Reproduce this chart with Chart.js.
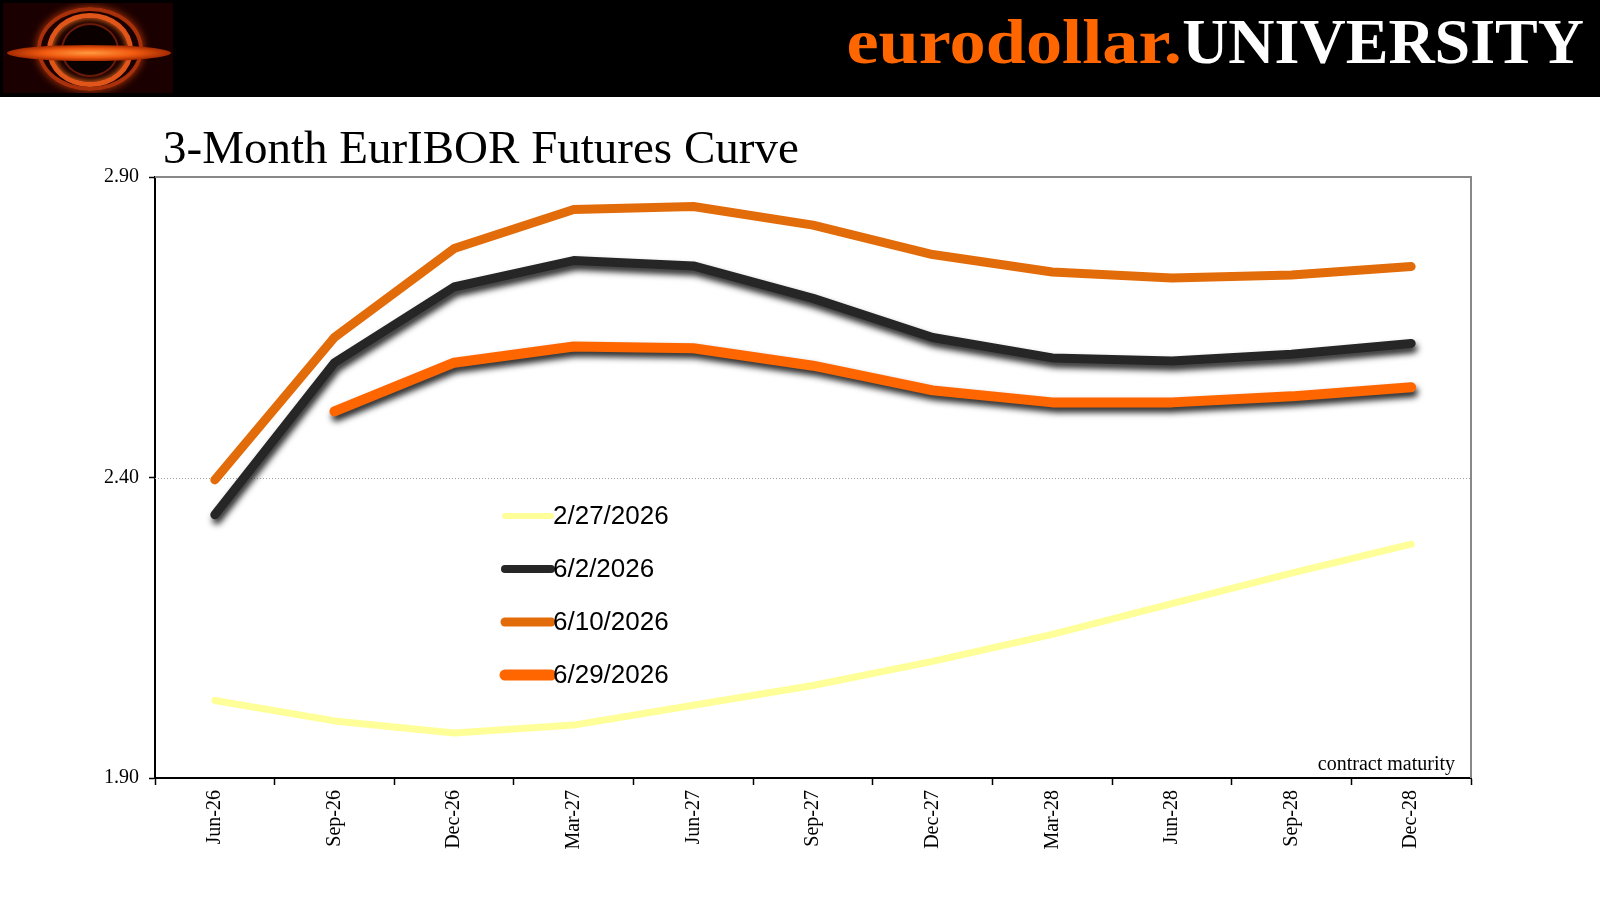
<!DOCTYPE html>
<html>
<head>
<meta charset="utf-8">
<script src="https://cdn.jsdelivr.net/npm/chart.js@4.4.1/dist/chart.umd.min.js"></script>
<style>
    html, body { margin: 0; padding: 0; background: #fff; }
    body { width: 1600px; height: 900px; position: relative; overflow: hidden; }
    #chartBox { position: absolute; left: 0; top: 0; width: 1600px; height: 900px; }
    .header { position: absolute; left: 0; top: 0; width: 1600px; height: 97px; background: #000; }
    .logo { position: absolute; left: 3px; top: 3px; width: 170px; height: 90px; background: #1a0000; overflow: hidden; }
    .logo .ring { position: absolute; border-radius: 50%; box-sizing: border-box; }
    .brand { position: absolute; right: 16px; top: 10px; font-family: "Liberation Serif", serif; font-weight: bold; font-size: 64px; line-height: 64px; white-space: nowrap; }
    .brand .euro { color: #ff6600; display: inline-block; transform: scaleX(1.13); transform-origin: right center; }
    .brand .uni { color: #fff; }
    .title { position: absolute; left: 163px; top: 124px; font-family: "Liberation Serif", serif; font-size: 47px; line-height: 47px; color: #000; white-space: nowrap; }
    .note { position: absolute; right: 145px; top: 753px; font-family: "Liberation Serif", serif; font-size: 20px; line-height: 20px; color: #000; }
</style>
</head>
<body>
<div id="chartBox"><canvas id="curveChart"></canvas></div>

<div class="header">
    <div class="logo">
        <div class="ring" style="left:34px; top:4px; width:106px; height:84px; border:4px solid #a8300a; box-shadow:0 0 8px #c03a08;"></div>
        <div class="ring" style="left:44px; top:10px; width:86px; height:74px; border:5px solid #e0561a; box-shadow:inset 0 0 6px #ff7a20;"></div>
        <div class="ring" style="left:58px; top:20px; width:58px; height:54px; border:2px solid #6a1a08; background:#0a0000;"></div>
        <div class="ring" style="left:4px; top:42px; width:164px; height:16px; background:radial-gradient(ellipse at center, #ff9a40 0%, #f05a10 40%, #a02800 72%, rgba(40,0,0,0) 100%);"></div>
    </div>
    <div class="brand"><span class="euro">eurodollar.</span><span class="uni">UNIVERSITY</span></div>
</div>
<div class="title">3-Month EurIBOR Futures Curve</div>
<div class="note">contract maturity</div>

<script>
// contract maturities
const maturities = ['Jun-26', 'Sep-26', 'Dec-26', 'Mar-27', 'Jun-27', 'Sep-27',
    'Dec-27', 'Mar-28', 'Jun-28', 'Sep-28', 'Dec-28'];

// implied rates per curve date
const curveFeb27 = [2.029, 1.995, 1.975, 1.988, 2.021, 2.054, 2.094, 2.139, 2.190, 2.241, 2.289];
const curveJun2 = [2.338, 2.591, 2.717, 2.761, 2.752, 2.698, 2.633, 2.599, 2.594, 2.605, 2.623];
const curveJun10 = [2.396, 2.633, 2.781, 2.846, 2.851, 2.820, 2.771, 2.742, 2.732, 2.737, 2.751];
const curveJun29 = [null, 2.510, 2.591, 2.618, 2.615, 2.586, 2.545, 2.525, 2.525, 2.535, 2.550];

const yTicks = [1.90, 2.40, 2.90];
const midLine = 2.40;

const serif = 'Liberation Serif';

// drop shadow under the black and 6/29 lines
const shadowPlugin = {
    id: 'lineShadow',
    beforeDatasetDraw(chart, args) {
        const ds = chart.data.datasets[args.index];
        if (!ds.shadow) return;
        const ctx = chart.ctx;
        ctx.save();
        ctx.shadowColor = 'rgba(0, 0, 0, 0.85)';
        ctx.shadowBlur = 6;
        ctx.shadowOffsetX = 2;
        ctx.shadowOffsetY = 5;
    },
    afterDatasetDraw(chart, args) {
        const ds = chart.data.datasets[args.index];
        if (!ds.shadow) return;
        chart.ctx.restore();
    }
};

// grey frame on top and right, dotted line at 2.40
const framePlugin = {
    id: 'plotFrame',
    beforeDatasetsDraw(chart) {
        const { ctx, chartArea: a } = chart;
        const yMid = Math.round(chart.scales.y.getPixelForValue(midLine)) + 0.5;
        ctx.save();
        ctx.strokeStyle = '#a0a0a0';
        ctx.lineWidth = 1;
        ctx.setLineDash([1, 2]);
        ctx.beginPath();
        ctx.moveTo(a.left, yMid);
        ctx.lineTo(a.right, yMid);
        ctx.stroke();
        ctx.setLineDash([]);
        ctx.strokeStyle = '#888888';
        ctx.lineWidth = 2;
        ctx.beginPath();
        ctx.moveTo(a.left, a.top);
        ctx.lineTo(a.right, a.top);
        ctx.lineTo(a.right, a.bottom);
        ctx.stroke();
        ctx.restore();
    }
};

// legend sitting inside the plot
const insideLegend = {
    id: 'insideLegend',
    afterDraw(chart) {
        const ctx = chart.ctx;
        const x0 = 505, x1 = 551, top = 516, gap = 53;
        ctx.save();
        chart.data.datasets.forEach((ds, i) => {
            const y = top + i * gap;
            ctx.strokeStyle = ds.borderColor;
            ctx.lineWidth = ds.legendWidth;
            ctx.lineCap = 'round';
            ctx.beginPath();
            ctx.moveTo(x0, y);
            ctx.lineTo(x1, y);
            ctx.stroke();
            ctx.fillStyle = '#000';
            ctx.font = '26px "Liberation Sans"';
            ctx.textBaseline = 'middle';
            ctx.textAlign = 'left';
            ctx.fillText(ds.label, x1 + 2, y + 1);
        });
        ctx.restore();
    }
};

function makeSet(label, data, color, width, legendWidth, shadow) {
    return {
        label: label,
        data: data,
        borderColor: color,
        backgroundColor: color,
        borderWidth: width,
        legendWidth: legendWidth,
        shadow: shadow,
        borderCapStyle: 'round',
        borderJoinStyle: 'round',
        pointRadius: 0,
        pointHoverRadius: 0,
        tension: 0,
        fill: false,
        spanGaps: false
    };
}

function initChart() {
    const ctx = document.getElementById('curveChart').getContext('2d');

    new Chart(ctx, {
        type: 'line',
        data: {
            labels: maturities,
            datasets: [
                makeSet('2/27/2026', curveFeb27, '#ffff99', 7, 6, false),
                makeSet('6/2/2026', curveJun2, '#262626', 9, 8, true),
                makeSet('6/10/2026', curveJun10, '#e36c0a', 9, 9, false),
                makeSet('6/29/2026', curveJun29, '#ff6600', 10, 11, true)
            ]
        },
        plugins: [shadowPlugin, framePlugin, insideLegend],
        options: {
            responsive: true,
            maintainAspectRatio: false,
            animation: false,
            devicePixelRatio: 1,
            layout: {
                padding: { left: 85, right: 129, top: 177, bottom: 42 }
            },
            scales: {
                x: {
                    offset: true,
                    afterFit: (scale) => { scale.height = 80; },
                    border: { color: '#000', width: 2 },
                    grid: {
                        offset: true,
                        drawOnChartArea: false,
                        tickColor: '#000',
                        tickLength: 7,
                        tickWidth: 1.5
                    },
                    ticks: {
                        color: '#000',
                        font: { family: serif, size: 20 },
                        minRotation: 90,
                        maxRotation: 90,
                        padding: 5,
                        autoSkip: false
                    }
                },
                y: {
                    min: 1.9,
                    max: 2.9,
                    afterFit: (scale) => { scale.width = 70; },
                    afterBuildTicks: (scale) => {
                        scale.ticks = yTicks.map(v => ({ value: v }));
                    },
                    border: { color: '#000', width: 2 },
                    grid: {
                        color: 'rgba(0,0,0,0)',
                        drawOnChartArea: false,
                        tickColor: '#000',
                        tickLength: 6,
                        tickWidth: 1.5
                    },
                    ticks: {
                        color: '#000',
                        font: { family: serif, size: 20 },
                        padding: 10,
                        callback: (v) => Number(v).toFixed(2)
                    }
                }
            },
            plugins: {
                legend: { display: false },
                tooltip: { enabled: false },
                title: { display: false }
            }
        }
    });
}

if (document.readyState === 'loading') {
    document.addEventListener('DOMContentLoaded', initChart);
} else {
    initChart();
}
</script>
</body>
</html>
